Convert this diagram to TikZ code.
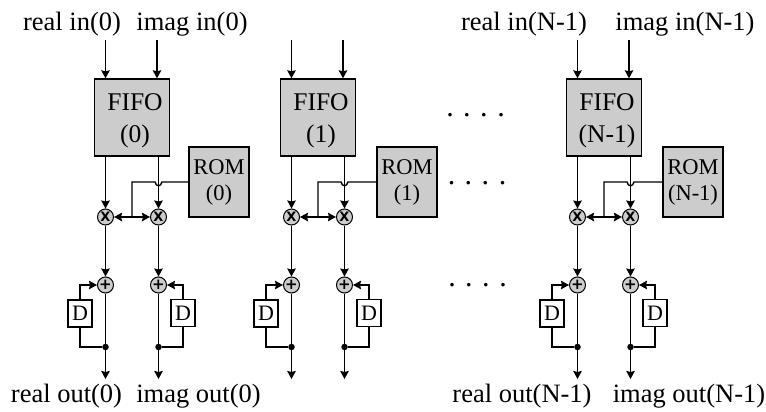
\documentclass[tikz,border=0pt]{standalone}
\usepackage{fontspec}
\setmainfont{Liberation Serif}
\newfontfamily\opfont{DejaVu Sans}
\usetikzlibrary{arrows.meta}
\definecolor{boxgray}{HTML}{CCCCCC}

\begin{document}
\begin{tikzpicture}[
  x=1pt, y=-1pt,
  >={Stealth[inset=1pt,length=8pt,width=8.5pt]},
  wire/.style={line width=1.4pt, black},
  fifobox/.style={draw, line width=1.4pt, fill=boxgray, minimum width=75pt, minimum height=77pt, inner sep=0pt},
  fifotext/.style={inner sep=0pt, align=center, font=\fontsize{25.5}{32}\selectfont},
  rombox/.style={draw, line width=1.4pt, fill=boxgray, minimum width=60pt, minimum height=70pt, inner sep=0pt, align=center, font=\fontsize{22.5}{26}\selectfont},
  delaybox/.style={draw, line width=1.2pt, fill=white, minimum width=24pt, minimum height=27pt, inner sep=0pt, font=\fontsize{22}{22}\selectfont},
  opnode/.style={circle, draw, line width=1pt, fill=boxgray, minimum size=16pt, inner sep=0pt, font=\opfont\fontsize{13}{13}\selectfont\bfseries},
  addnode/.style={opnode, font=\opfont\fontsize{15}{15}\selectfont\bfseries},
  junction/.style={circle, fill=black, minimum size=6.5pt, inner sep=0pt},
  lbl/.style={font=\fontsize{26.5}{30}\selectfont, inner sep=0pt},
  dots/.style={font=\fontsize{30}{30}\selectfont, inner sep=0pt},
]
\useasboundingbox (0,0) rectangle (766,412);

\foreach \id/\dx/\romx/\n in {a/0/219/0, b/186/221/1, c/472/221/N-1} {
\begin{scope}[shift={(\dx,0)}]
  \node[fifobox] (fifo\id) at (132,117.5) {};
  \node[fifotext] (fifolbl\id) at (135,120.5) {FIFO\\(\n)};
  \node[rombox] (rom\id) at (\romx,182) {ROM\\(\n)};
  \node[opnode] (mulr\id) at (105.5,217) {X};
  \node[opnode] (muli\id) at (158.5,217) {X};
  \node[addnode] (addr\id) at (105.5,285) {+};
  \node[addnode] (addi\id) at (158.5,285) {+};
  \node[delaybox] (dr\id) at (80,313.5) {D};
  \node[delaybox] (di\id) at (183,313) {D};
  \node[junction] (outr\id) at (105.5,347) {};
  \node[junction] (outi\id) at (158.5,347) {};
  \coordinate (inr\id) at (105.5,40);
  \coordinate (ini\id) at (157,40);
  \coordinate (endr\id) at (105.5,379);
  \coordinate (endi\id) at (158.5,379);
  \coordinate (tap\id) at (132,217);

  \draw[wire,->] (inr\id) -- (inr\id |- fifo\id.north);
  \draw[wire,->] (ini\id) -- (ini\id |- fifo\id.north);
  \draw[wire,->] (mulr\id |- fifo\id.south) -- (mulr\id);
  \draw[wire,->] (muli\id |- fifo\id.south) -- (muli\id);

  % hop over the right channel
  \draw[wire] (rom\id.west) -- (162,182) .. controls (161,187) and (156,187) .. (155,182) -- (132,182) -- (tap\id);
  \draw[wire,<->] (mulr\id) -- (muli\id);

  \draw[wire,->] (mulr\id) -- (addr\id);
  \draw[wire,->] (muli\id) -- (addi\id);
  \draw[wire,->] (addr\id) -- (endr\id);
  \draw[wire,->] (addi\id) -- (endi\id);
  \draw[wire,->] (dr\id.north) |- (addr\id);
  \draw[wire,->] (di\id.north) |- (addi\id);
  \draw[wire] (outr\id) -| (dr\id.south);
  \draw[wire] (outi\id) -| (di\id.south);
\end{scope}
}

\node[lbl] (ra) at (72,24) {real in(0)};
\node[lbl] (ia) at (192,24) {imag in(0)};
\node[lbl] (rc) at (524,24) {real in(N-1)};
\node[lbl] (ic) at (685,24) {imag in(N-1)};
\node[lbl] (oa) at (66.5,396) {real out(0)};
\node[lbl] (pa) at (198.5,396) {imag out(0)};
\node[lbl] (oc) at (522,396) {real out(N-1)};
\node[lbl] (pc) at (689,396) {imag out(N-1)};

\node[dots] (dots1) at (475.5,115) {.\hspace{9.5pt}.\hspace{9.5pt}.\hspace{9.5pt}.};
\node[dots] (dots2) at (477,183) {.\hspace{9.5pt}.\hspace{9.5pt}.\hspace{9.5pt}.};
\node[dots] (dots3) at (477.5,285) {.\hspace{9.5pt}.\hspace{9.5pt}.\hspace{9.5pt}.};
\end{tikzpicture}
\end{document}
